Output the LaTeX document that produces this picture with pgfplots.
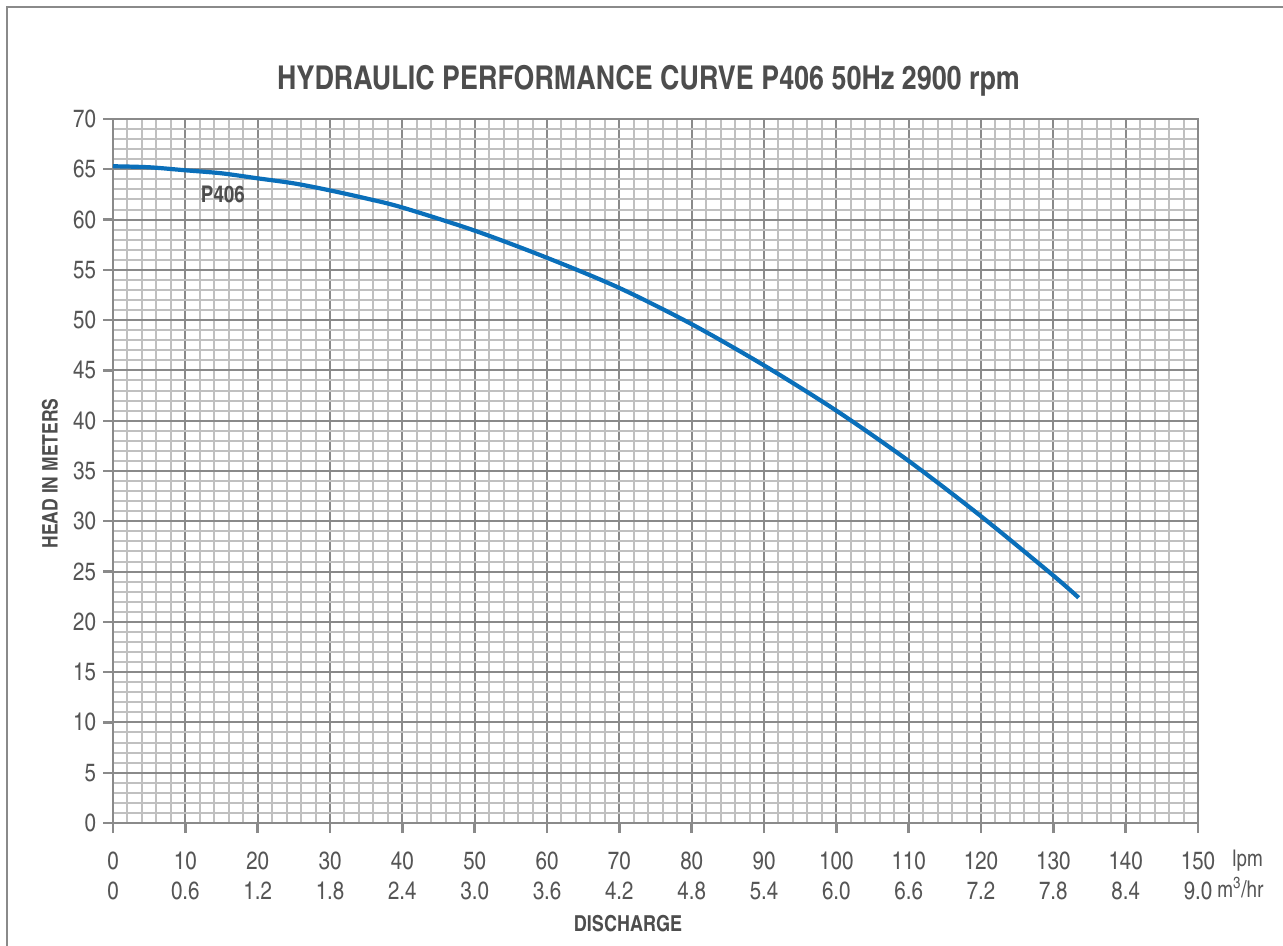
\documentclass[border=0pt]{standalone}
\usepackage{pgfplots}
\pgfplotsset{compat=1.18}
\usepackage{fontspec}
\setmainfont{texgyreheroscn}[Extension=.otf, UprightFont=*-regular, BoldFont=*-bold, ItalicFont=*-italic, BoldItalicFont=*-bolditalic]
\definecolor{gmaj}{HTML}{8A8A8A}
\definecolor{gmin}{HTML}{C0C0C0}
\definecolor{txt}{HTML}{555555}
\definecolor{bold}{HTML}{4D4D4D}
\definecolor{curve}{HTML}{0A6FBA}
\begin{document}
\begin{tikzpicture}
\useasboundingbox (-56.5pt,-61.5pt) rectangle (585pt,411.5pt);
\draw[gmaj, line width=0.75pt] (-53pt,-61.5pt) -- (-53pt,408pt) -- (585pt,408pt);
\begin{axis}[
  at={(0,0)}, anchor=south west, scale only axis,
  width=542.5pt, height=352pt,
  xmin=0, xmax=150, ymin=0, ymax=70,
  xtick={0,10,...,150}, ytick={0,5,...,70},
  minor x tick num=4, minor y tick num=4,
  grid=both,
  major grid style={gmaj, line width=1pt},
  minor grid style={gmin, line width=1pt},
  axis line style={gmaj, line width=1pt},
  tick style={gmaj, line width=1.2pt},
  major tick length=5pt, minor tick length=0pt,
  tick align=outside, tick pos=left,
  xticklabels={0,10,20,30,40,50,60,70,80,90,100,110,120,130,140,150},
  xticklabel style={font=\fontsize{12.5}{14}\selectfont, text=txt, anchor=base, yshift=-18pt},
  extra x ticks={0,10,...,150},
  extra x tick labels={0,0.6,1.2,1.8,2.4,3.0,3.6,4.2,4.8,5.4,6.0,6.6,7.2,7.8,8.4,9.0},
  extra x tick style={grid=none, major tick length=0pt, xticklabel style={yshift=-20.4pt}},
  yticklabel style={font=\fontsize{12.5}{14}\selectfont, text=txt},
  /pgf/number format/assume math mode=true,
]
\addplot[curve, line width=2.1pt, smooth, tension=0.5] coordinates {
(0,65.3) (5,65.2) (10,64.9) (15,64.6) (20,64.1) (25,63.6) (30,62.9) (35,62.1)
(40,61.2) (50,58.9) (60,56.2) (70,53.2) (80,49.6) (90,45.5) (100,41.0)
(110,36.0) (120,30.5) (130,24.6) (133.5,22.4)
};
\node[anchor=base west, font=\bfseries\fontsize{11.5}{13}\selectfont, text=bold, inner sep=0pt] at (axis cs:12.1,61.65) {P406};
\end{axis}
\node[anchor=base, font=\bfseries\fontsize{16.4}{18}\selectfont, text=bold, inner sep=0pt] at (267.75pt,366.5pt) {HYDRAULIC PERFORMANCE CURVE P406 50Hz 2900 rpm};
\node[anchor=base, font=\bfseries\fontsize{11}{12}\selectfont, text=bold, inner sep=0pt] at (257.5pt,-54pt) {DISCHARGE};
\node[rotate=90, font=\bfseries\fontsize{10.7}{12}\selectfont, text=bold, inner sep=0pt] at (-31.5pt,174.75pt) {HEAD IN METERS};
\node[anchor=base west, font=\fontsize{11.5}{13}\selectfont, text=txt, inner sep=0pt] at (559.5pt,-21.85pt) {lpm};
\node[anchor=base west, font=\fontsize{11.5}{13}\selectfont, text=txt, inner sep=0pt] at (552pt,-37.25pt) {m\textsuperscript{3}/hr};
\end{tikzpicture}
\end{document}
